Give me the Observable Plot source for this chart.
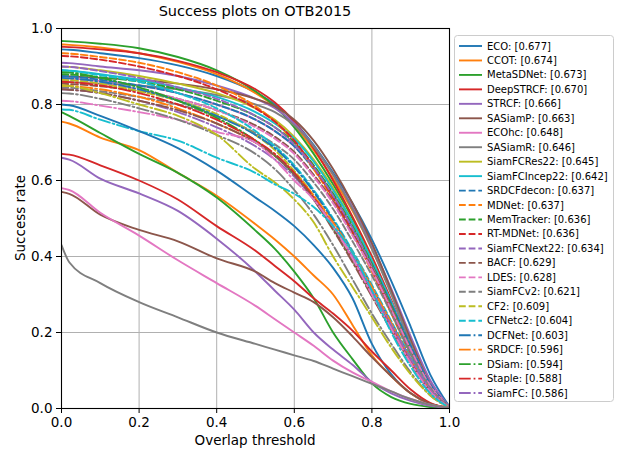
<!DOCTYPE html>
<html><head><meta charset="utf-8">
<script src="https://cdn.jsdelivr.net/npm/d3@7"></script>
<script src="https://cdn.jsdelivr.net/npm/@observablehq/plot@0.6"></script>
<style>
body{margin:0;background:#fff;font-family:"DejaVu Sans",sans-serif;}
#wrap{position:relative;width:621px;height:451px;overflow:hidden;}
#title{position:absolute;left:61px;width:388px;top:3px;text-align:center;font-size:14.5px;color:#000;}
#xlabel{position:absolute;left:61px;width:388px;top:432px;text-align:center;font-size:13.5px;color:#000;}
#ylabel{position:absolute;left:20px;top:218px;transform:translate(-50%,-50%) rotate(-90deg);white-space:nowrap;font-size:13.5px;color:#000;}
#legend{position:absolute;left:454px;top:35px;}
</style></head><body>
<div id="wrap"></div>
<script>
// Overlap thresholds at which the success rates were read
const thresholds = [0, 0.02, 0.1, 0.2, 0.3, 0.4, 0.5, 0.55, 0.6, 0.65, 0.7, 0.75, 0.8, 0.85, 0.9, 0.95, 1];

// Legend entries (tracker name, AUC score)
const trackerNames = ["ECO","CCOT","MetaSDNet","DeepSTRCF","STRCF","SASiamP","ECOhc","SASiamR","SiamFCRes22","SiamFCIncep22",
  "SRDCFdecon","MDNet","MemTracker","RT-MDNet","SiamFCNext22","BACF","LDES","SiamFCv2","CF2","CFNetc2",
  "DCFNet","SRDCF","DSiam","Staple","SiamFC"];
const aucScores = ["0.677","0.674","0.673","0.670","0.666","0.663","0.648","0.646","0.645","0.642",
  "0.637","0.637","0.636","0.636","0.634","0.629","0.628","0.621","0.609","0.604",
  "0.603","0.596","0.594","0.588","0.586"];

// Success-rate curves (first 25 are the legend entries, the rest are further unlabelled trackers)
const successRates = [
  [.945,.944,.935,.922,.903,.875,.832,.800,.755,.693,.620,.540,.445,.335,.215,.090,.005], // ECO
  [.958,.957,.950,.935,.912,.880,.830,.795,.745,.680,.605,.520,.420,.305,.180,.070,.004], // CCOT
  [.967,.966,.960,.948,.925,.890,.835,.795,.740,.670,.590,.500,.395,.280,.160,.060,.003], // MetaSDNet
  [.952,.951,.945,.935,.915,.885,.840,.805,.755,.685,.600,.505,.400,.285,.165,.060,.003], // DeepSTRCF
  [.910,.909,.900,.890,.875,.850,.815,.790,.750,.690,.615,.530,.430,.315,.190,.075,.004], // STRCF
  [.875,.874,.870,.865,.855,.840,.815,.795,.760,.705,.630,.540,.435,.310,.180,.065,.003], // SASiamP
  [.870,.869,.862,.850,.830,.800,.760,.730,.690,.635,.565,.480,.385,.280,.165,.065,.004], // ECOhc
  [.860,.859,.855,.850,.840,.825,.800,.780,.745,.690,.615,.525,.420,.300,.170,.060,.003], // SASiamR
  [.900,.899,.890,.875,.855,.830,.790,.760,.715,.655,.580,.490,.390,.275,.155,.055,.003], // SiamFCRes22
  [.890,.889,.880,.865,.845,.820,.780,.750,.710,.650,.575,.490,.390,.280,.160,.060,.003], // SiamFCIncep22
  [.875,.874,.865,.850,.830,.800,.760,.730,.690,.630,.560,.475,.380,.275,.165,.065,.004], // SRDCFdecon
  [.935,.934,.925,.910,.885,.850,.795,.755,.700,.630,.550,.460,.360,.250,.140,.050,.002], // MDNet
  [.880,.879,.872,.860,.840,.810,.770,.740,.700,.640,.565,.480,.380,.270,.155,.055,.003], // MemTracker
  [.928,.927,.918,.900,.875,.840,.790,.755,.705,.635,.555,.465,.365,.255,.145,.050,.002], // RT-MDNet
  [.900,.899,.888,.870,.845,.815,.770,.740,.695,.635,.560,.475,.375,.265,.150,.055,.003], // SiamFCNext22
  [.855,.854,.848,.835,.815,.785,.745,.715,.675,.615,.545,.460,.370,.265,.155,.060,.004], // BACF
  [.865,.864,.855,.840,.815,.785,.740,.710,.670,.610,.540,.455,.365,.260,.155,.060,.003], // LDES
  [.845,.844,.835,.820,.800,.770,.725,.695,.655,.595,.525,.440,.350,.250,.145,.055,.003], // SiamFCv2
  [.865,.864,.855,.835,.810,.775,.720,.680,.625,.560,.480,.395,.305,.215,.130,.050,.003], // CF2
  [.890,.889,.877,.860,.830,.790,.730,.690,.640,.575,.500,.415,.325,.230,.135,.050,.003], // CFNetc2
  [.870,.869,.860,.840,.810,.770,.720,.685,.635,.570,.495,.410,.320,.225,.130,.050,.003], // DCFNet
  [.850,.849,.840,.820,.790,.750,.700,.665,.620,.560,.490,.410,.320,.225,.130,.050,.003], // SRDCF
  [.885,.884,.870,.845,.810,.765,.705,.665,.615,.550,.475,.390,.300,.210,.120,.045,.002], // DSiam
  [.860,.859,.850,.830,.800,.760,.705,.670,.620,.555,.480,.395,.305,.215,.125,.045,.002], // Staple
  [.840,.839,.830,.810,.780,.740,.690,.655,.610,.550,.480,.400,.310,.220,.130,.050,.003], // SiamFC
  [.840,.839,.830,.810,.785,.750,.700,.665,.615,.550,.470,.385,.295,.205,.120,.045,.002],
  [.810,.809,.797,.780,.760,.728,.700,.655,.600,.550,.480,.395,.300,.210,.120,.045,.002],
  [.830,.829,.815,.790,.760,.720,.670,.630,.575,.510,.430,.340,.250,.170,.095,.035,.002],
  [.850,.849,.830,.800,.770,.720,.630,.595,.550,.490,.400,.320,.240,.160,.090,.035,.002],
  [.787,.786,.760,.730,.705,.660,.620,.590,.565,.530,.480,.410,.310,.200,.110,.040,.002],
  [.800,.798,.770,.730,.685,.626,.555,.520,.480,.430,.370,.290,.170,.090,.040,.012,.002],
  [.755,.750,.713,.680,.620,.560,.485,.445,.400,.350,.300,.220,.140,.085,.040,.012,.002],
  [.780,.770,.725,.670,.620,.555,.468,.420,.360,.290,.200,.130,.066,.030,.012,.004,.001],
  [.670,.668,.640,.600,.550,.480,.415,.375,.335,.290,.250,.205,.150,.100,.050,.015,.002],
  [.660,.655,.605,.566,.520,.447,.360,.310,.260,.200,.155,.115,.070,.040,.020,.007,.001],
  [.570,.565,.510,.470,.440,.395,.360,.330,.305,.280,.240,.190,.135,.085,.040,.013,.002],
  [.580,.575,.515,.455,.390,.330,.270,.235,.200,.165,.126,.095,.070,.045,.025,.010,.002],
  [.430,.385,.330,.280,.240,.200,.170,.155,.140,.125,.105,.085,.065,.045,.025,.010,.002]
];

const axisTicks = [0, 0.2, 0.4, 0.6, 0.8, 1.0];

const palette = ["#1f77b4","#ff7f0e","#2ca02c","#d62728","#9467bd","#8c564b","#e377c2","#7f7f7f","#bcbd22","#17becf"];
const dashStyles = [null, "6.75,2.92", "11.7,2.9,1.8,2.9"];
const colorOf = i => palette[i % 10];
const dashOf = i => dashStyles[Math.floor(i / 10) % 3];

const lineMarks = successRates.map((vals, i) =>
  Plot.line(thresholds.map((t, j) => ({t, v: vals[j]})), {
    x: "t", y: "v", stroke: colorOf(i), strokeWidth: 1.9,
    strokeDasharray: dashOf(i), curve: "monotone-x", clip: true
  })
);

const chart = Plot.plot({
  width: 621, height: 451,
  marginLeft: 61, marginRight: 172, marginTop: 28, marginBottom: 43,
  x: {domain: [0, 1]},
  y: {domain: [0, 1]},
  style: {fontFamily: "DejaVu Sans", fontSize: "13.5px", color: "black", background: "white"},
  marks: [
    Plot.gridX(axisTicks, {stroke: "#b0b0b0", strokeOpacity: 1, strokeWidth: 1}),
    Plot.gridY(axisTicks, {stroke: "#b0b0b0", strokeOpacity: 1, strokeWidth: 1}),
    ...lineMarks,
    Plot.frame({stroke: "black", strokeWidth: 1.1}),
    Plot.axisX({ticks: axisTicks, tickFormat: d3.format(".1f"), tickSize: 5, tickPadding: 4, label: null}),
    Plot.axisY({ticks: axisTicks, tickFormat: d3.format(".1f"), tickSize: 5, tickPadding: 4, label: null})
  ]
});

const wrap = document.getElementById("wrap");
wrap.appendChild(chart);

const title = document.createElement("div");
title.id = "title"; title.textContent = "Success plots on OTB2015";
wrap.appendChild(title);
const xl = document.createElement("div");
xl.id = "xlabel"; xl.textContent = "Overlap threshold";
wrap.appendChild(xl);
const yl = document.createElement("div");
yl.id = "ylabel"; yl.textContent = "Success rate";
wrap.appendChild(yl);

// Legend
const rowH = 14.46, legW = 159, legH = 366;
const leg = d3.create("svg").attr("id", "legend").attr("width", legW + 2).attr("height", legH + 2);
leg.append("rect").attr("x", 0.5).attr("y", 0.5).attr("width", legW).attr("height", legH)
  .attr("rx", 3).attr("fill", "white").attr("stroke", "#cccccc").attr("stroke-width", 1);
trackerNames.forEach((name, i) => {
  const y = 11 + i * rowH;
  leg.append("line").attr("x1", 5).attr("x2", 28).attr("y1", y).attr("y2", y)
    .attr("stroke", colorOf(i)).attr("stroke-width", 1.9)
    .attr("stroke-dasharray", dashOf(i));
  leg.append("text").attr("x", 33).attr("y", y).attr("dy", "0.35em")
    .attr("font-family", "DejaVu Sans").attr("font-size", 10).attr("fill", "#000")
    .text(`${name}: [${aucScores[i]}]`);
});
wrap.appendChild(leg.node());
</script>
</body></html>
